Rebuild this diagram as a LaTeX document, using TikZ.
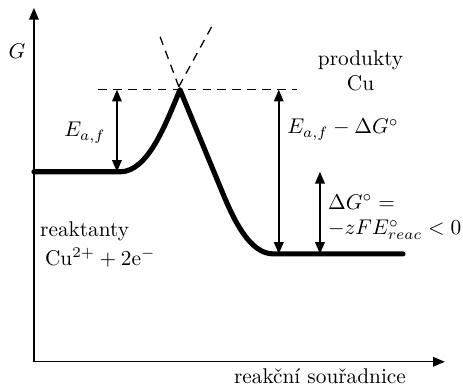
\documentclass[tikz,border=0pt]{standalone}
\usetikzlibrary{arrows.meta}

\tikzset{
    axis/.style={line width=0.6pt, -{Triangle[length=5.5pt, width=4.5pt]}},
    level/.style={line width=2.4pt, line cap=round, line join=round},
    dimarrow/.style={line width=0.7pt, {Triangle[length=5.5pt, width=4.5pt]}-{Triangle[length=5.5pt, width=4.5pt]}},
    guide/.style={line width=0.6pt, dash pattern=on 4pt off 3pt}
}

\begin{document}
\begin{tikzpicture}

    \useasboundingbox (-0.56,-0.38) rectangle (7.08,5.97);

    % axes
    \coordinate (origin) at (0,0);
    \coordinate (gtop) at (0,5.84);
    \coordinate (xend) at (6.78,0);
    \draw[axis] (origin) -- (gtop);
    \draw[axis] (origin) -- (xend);
    \node (glabel) at (-0.28,5.12) {$G$};
    \node (xlabel) at (4.72,-0.235) {reakční souřadnice};

    % energy levels
    \coordinate (react) at (0,3.135);
    \coordinate (reactend) at (1.42,3.135);
    \coordinate (peak) at (2.41,4.49);
    \coordinate (slope) at (3.10,2.82);
    \coordinate (prod) at (3.95,1.78);
    \coordinate (prodend) at (6.09,1.78);

    % dashed guides
    \coordinate (cross) at (2.39,4.54);
    \draw[guide] (cross) -- (2.05,5.45);
    \draw[guide] (cross) -- (2.95,5.56);
    \draw[guide] (1.06,4.49) -- (4.34,4.49);

    % reaction path
    \draw[level] (react) -- (reactend)
        .. controls (1.88,3.135) and (2.17,3.91) .. (peak)
        -- (slope)
        .. controls (3.28,2.38) and (3.55,1.78) .. (prod)
        -- (prodend);

    % E_a,f
    \coordinate (eatop) at (1.37,4.49);
    \coordinate (eabot) at (1.37,3.135);
    \draw[dimarrow] (eatop) -- (eabot);
    \node (ealabel) at (0.84,3.78) {$E_{a,f}$};

    % E_a,f - dG
    \coordinate (ebtop) at (4.04,4.49);
    \coordinate (ebbot) at (4.04,1.78);
    \draw[dimarrow] (ebtop) -- (ebbot);
    \node (eblabel) at (5.10,3.83) {$E_{a,f}-\Delta G^{\circ}$};

    % dG
    \coordinate (dgtop) at (4.72,3.135);
    \coordinate (dgbot) at (4.72,1.78);
    \draw[dimarrow] (dgtop) -- (dgbot);
    \node[anchor=west, align=left] (dglabel) at (4.73,2.385) {$\Delta G^{\circ} =$\\$-zFE^{\circ}_{reac} < 0$};

    % labels
    \node[align=center] (products) at (5.39,4.80) {produkty\\Cu};
    \node[anchor=west] (reactants) at (-0.02,2.15) {reaktanty};
    \node[anchor=west] (reactcu) at (0.06,1.72) {Cu$^{2+}+2$e$^{-}$};

\end{tikzpicture}
\end{document}
